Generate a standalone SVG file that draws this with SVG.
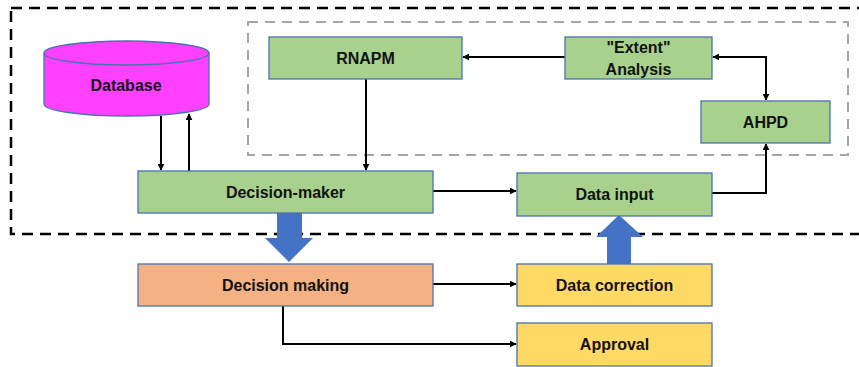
<svg xmlns="http://www.w3.org/2000/svg" width="859" height="367" viewBox="0 0 859 367">
<defs>
<style>
.box{stroke:#4A72B0;stroke-width:1.3}
.g{fill:#A9D18E}
.o{fill:#F4B183}
.y{fill:#FFD966}
.t{font-family:"Liberation Sans",Arial,sans-serif;font-weight:bold;font-size:16px;fill:#111;text-anchor:middle}
.c{fill:none;stroke:#000;stroke-width:2}
.blk{fill:#4472C4}
</style>
<marker id="ah" viewBox="0 0 10 10" refX="9" refY="5" markerWidth="7" markerHeight="7" markerUnits="userSpaceOnUse" orient="auto-start-reverse">
<path d="M0,0 L10,5 L0,10 z" fill="#000"/>
</marker>
</defs>
<rect x="0" y="0" width="859" height="367" fill="#fff"/>
<rect x="11" y="8" width="870" height="226" fill="none" stroke="#000" stroke-width="2.5" stroke-dasharray="11,7"/>
<rect x="248" y="22" width="600" height="133" fill="none" stroke="#A6A6A6" stroke-width="2" stroke-dasharray="10,7"/>

<g id="connectors">
<line class="c" x1="161" y1="116" x2="161" y2="170" marker-end="url(#ah)"/>
<line class="c" x1="189" y1="171" x2="189" y2="114" marker-end="url(#ah)"/>
<line class="c" x1="366" y1="79" x2="366" y2="170" marker-end="url(#ah)"/>
<line class="c" x1="565" y1="57" x2="463" y2="57" marker-end="url(#ah)"/>
<polyline class="c" points="713,57 766,57 766,100" marker-start="url(#ah)" marker-end="url(#ah)"/>
<line class="c" x1="433" y1="191" x2="516" y2="191" marker-end="url(#ah)"/>
<polyline class="c" points="712,193 766,193 766,144" marker-end="url(#ah)"/>
<line class="c" x1="433" y1="284" x2="516" y2="284" marker-end="url(#ah)"/>
<polyline class="c" points="283,306 283,344 516,344" marker-end="url(#ah)"/>
<polygon class="blk" points="277,213 302,213 302,238 313,238 289,262 265,238 277,238"/>
<polygon class="blk" points="607,264 631,264 631,237 643,237 619,215 596,237 607,237"/>
</g>

<g id="database">
<path d="M44,53 L44,104 A82.5,12 0 0 0 209,104 L209,53" fill="#FF40FF" stroke="#4A72B0" stroke-width="1.3"/>
<ellipse cx="126.5" cy="53" rx="82.5" ry="12" fill="#FF40FF" stroke="#4A72B0" stroke-width="1.3"/>
<text class="t" x="126" y="91">Database</text>
</g>
<g id="rnapm">
<rect class="box g" x="269" y="37" width="193" height="42"/>
<text class="t" x="365.5" y="64">RNAPM</text>
</g>
<g id="extent">
<rect class="box g" x="565" y="37" width="147" height="42"/>
<text class="t" x="638.5" y="53">"Extent"</text>
<text class="t" x="638.5" y="75">Analysis</text>
</g>
<g id="ahpd">
<rect class="box g" x="701" y="101" width="129" height="42"/>
<text class="t" x="765.5" y="128">AHPD</text>
</g>
<g id="decision-maker">
<rect class="box g" x="138" y="171" width="295" height="42"/>
<text class="t" x="285.5" y="198">Decision-maker</text>
</g>
<g id="data-input">
<rect class="box g" x="517" y="173" width="195" height="43"/>
<text class="t" x="614.5" y="200">Data input</text>
</g>
<g id="decision-making">
<rect class="box o" x="138" y="264" width="295" height="42"/>
<text class="t" x="285.5" y="291">Decision making</text>
</g>
<g id="data-correction">
<rect class="box y" x="517" y="264" width="195" height="42"/>
<text class="t" x="614.5" y="291">Data correction</text>
</g>
<g id="approval">
<rect class="box y" x="517" y="323" width="195" height="43"/>
<text class="t" x="614.5" y="350">Approval</text>
</g>
</svg>
